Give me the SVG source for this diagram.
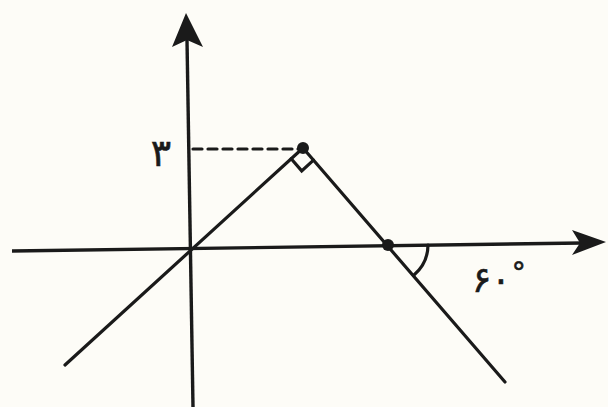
<svg xmlns="http://www.w3.org/2000/svg" width="608" height="407" viewBox="0 0 608 407">
<style>
.ln{stroke:#1a1a1a;stroke-width:3.2;fill:none;stroke-linecap:round}
.ax{stroke:#1a1a1a;stroke-width:3.4;fill:none}
.lbl{font-family:"DejaVu Sans","Noto Sans",sans-serif;fill:#1a1a1a}
</style>
<rect width="608" height="407" fill="#fdfcf7"/>
<g id="axes">
<line class="ax" x1="12" y1="251" x2="582" y2="243"/>
<polygon points="606,242 572,230 580,243 572,255" fill="#1a1a1a"/>
<line class="ax" x1="193" y1="407" x2="187" y2="40"/>
<polygon points="186,13 172,47 187,40 203,47" fill="#1a1a1a"/>
</g>
<g id="lines">
<line class="ln" x1="65" y1="365" x2="303" y2="148"/>
<line class="ln" x1="303" y1="148" x2="505" y2="382"/>
<line class="ln" x1="193" y1="149" x2="300" y2="149" stroke-dasharray="9,6" stroke-width="2.6"/>
<polyline class="ln" points="291.2,158.8 301.7,170.9 313.5,160.1" stroke-width="2.6"/>
<path class="ln" d="M428,245 A40,40 0 0 1 414,275" stroke-width="2.6"/>
<circle cx="303" cy="148" r="6" fill="#1a1a1a"/>
<circle cx="388" cy="245" r="6" fill="#1a1a1a"/>
</g>
<g id="labels">
<text class="lbl" x="161" y="166" font-size="38" text-anchor="middle" stroke="#1a1a1a" stroke-width="0.6">۳</text>
<text class="lbl" x="472" y="292" font-size="36" stroke="#1a1a1a" stroke-width="0.6">۶۰<tspan dx="1" dy="-10" font-size="28">°</tspan></text>
</g>
</svg>
